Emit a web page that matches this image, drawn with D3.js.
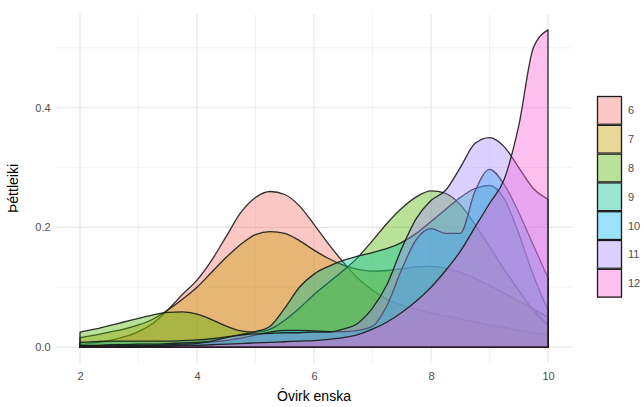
<!DOCTYPE html>
<html>
<head>
<meta charset="utf-8">
<script src="https://cdn.jsdelivr.net/npm/d3@7/dist/d3.min.js"></script>
<style>
  html, body { margin: 0; padding: 0; background: #fff; }
  svg { display: block; }
  text { font-family: "Liberation Sans", Arial, sans-serif; }
</style>
</head>
<body>
<svg id="chart" width="644" height="407"></svg>
<script>
// ---- data ----
const groups = ["6", "7", "8", "9", "10", "11", "12"];
const colors = ["#F8766D", "#C49A00", "#53B400", "#00C094", "#00B6EB", "#A58AFF", "#FB61D7"];
const xGrid = [2, 2.25, 2.5, 2.75, 3, 3.25, 3.5, 3.75, 4, 4.25, 4.5, 4.75, 5, 5.25, 5.5, 5.75,
               6, 6.25, 6.5, 6.75, 7, 7.25, 7.5, 7.75, 8, 8.25, 8.5, 8.75, 9, 9.25, 9.5, 9.75, 10];
const dens6  = [0.004, 0.007, 0.011, 0.017, 0.026, 0.040, 0.062, 0.088, 0.112, 0.145, 0.185, 0.225, 0.250, 0.260, 0.255, 0.236,
                0.205, 0.172, 0.142, 0.115, 0.095, 0.080, 0.070, 0.063, 0.057, 0.052, 0.047, 0.042, 0.037, 0.033, 0.028, 0.024, 0.020];
const dens7  = [0.016, 0.020, 0.025, 0.030, 0.037, 0.047, 0.062, 0.080, 0.100, 0.125, 0.150, 0.172, 0.188, 0.193, 0.190, 0.178,
                0.162, 0.148, 0.137, 0.130, 0.127, 0.128, 0.131, 0.134, 0.135, 0.132, 0.125, 0.115, 0.103, 0.090, 0.077, 0.064, 0.050];
const dens8  = [0.025, 0.030, 0.036, 0.042, 0.048, 0.054, 0.058, 0.059, 0.055, 0.046, 0.035, 0.027, 0.025, 0.030, 0.045, 0.065,
                0.088, 0.108, 0.128, 0.150, 0.178, 0.207, 0.232, 0.251, 0.261, 0.257, 0.238, 0.205, 0.168, 0.130, 0.095, 0.062, 0.037];
const dens9  = [0.008, 0.009, 0.010, 0.010, 0.010, 0.010, 0.010, 0.011, 0.012, 0.014, 0.017, 0.021, 0.026, 0.035, 0.065, 0.100,
                0.122, 0.135, 0.145, 0.152, 0.158, 0.165, 0.175, 0.190, 0.210, 0.230, 0.250, 0.265, 0.270, 0.248, 0.190, 0.120, 0.062];
const dens10 = [0.003, 0.003, 0.004, 0.004, 0.005, 0.005, 0.006, 0.007, 0.008, 0.009, 0.011, 0.015, 0.020, 0.025, 0.028, 0.028,
                0.027, 0.026, 0.026, 0.028, 0.035, 0.070, 0.130, 0.180, 0.198, 0.190, 0.190, 0.260, 0.297, 0.272, 0.225, 0.170, 0.116];
const dens11 = [0.002, 0.002, 0.002, 0.003, 0.003, 0.003, 0.004, 0.005, 0.006, 0.010, 0.016, 0.020, 0.022, 0.023, 0.024, 0.024,
                0.025, 0.025, 0.030, 0.040, 0.065, 0.105, 0.165, 0.215, 0.245, 0.262, 0.300, 0.340, 0.350, 0.335, 0.300, 0.265, 0.247];
const dens12 = [0.001, 0.001, 0.001, 0.001, 0.002, 0.002, 0.002, 0.003, 0.003, 0.004, 0.005, 0.006, 0.007, 0.008, 0.009, 0.010,
                0.011, 0.013, 0.016, 0.021, 0.030, 0.042, 0.058, 0.077, 0.100, 0.128, 0.160, 0.200, 0.240, 0.280, 0.370, 0.500, 0.530];
const densities = [dens6, dens7, dens8, dens9, dens10, dens11, dens12];
const xTicks = [2, 4, 6, 8, 10];
const xMinor = [3, 5, 7, 9];
const yTicks = [0.0, 0.2, 0.4];
const yMinor = [0.1, 0.3, 0.5];
const xTitle = "Óvirk enska";
const yTitle = "Þéttleiki";

// ---- layout ----
const svg = d3.select("#chart");
const panel = { left: 56.6, right: 571.4, top: 14, bottom: 363 };
const xMin = 2, xMax = 10, yMax = d3.max(densities.flat());
const xPad = (xMax - xMin) * 0.05, yPad = yMax * 0.05;

const x = d3.scaleLinear().domain([xMin - xPad, xMax + xPad]).range([panel.left, panel.right]);
const y = d3.scaleLinear().domain([-yPad, yMax + yPad]).range([panel.bottom, panel.top]);

// grid
const grid = svg.append("g");
grid.selectAll(".xminor").data(xMinor).join("line")
  .attr("x1", d => x(d)).attr("x2", d => x(d)).attr("y1", panel.top).attr("y2", panel.bottom)
  .attr("stroke", "#EBEBEB").attr("stroke-width", 0.6);
grid.selectAll(".yminor").data(yMinor).join("line")
  .attr("y1", d => y(d)).attr("y2", d => y(d)).attr("x1", panel.left).attr("x2", panel.right)
  .attr("stroke", "#EBEBEB").attr("stroke-width", 0.6);
grid.selectAll(".xmajor").data(xTicks).join("line")
  .attr("x1", d => x(d)).attr("x2", d => x(d)).attr("y1", panel.top).attr("y2", panel.bottom)
  .attr("stroke", "#E6E6E6").attr("stroke-width", 1.1);
grid.selectAll(".ymajor").data(yTicks).join("line")
  .attr("y1", d => y(d)).attr("y2", d => y(d)).attr("x1", panel.left).attr("x2", panel.right)
  .attr("stroke", "#E6E6E6").attr("stroke-width", 1.1);

// density areas
const area = d3.area()
  .x(d => x(d[0]))
  .y0(y(0))
  .y1(d => y(d[1]))
  .curve(d3.curveMonotoneX);

const layers = svg.append("g");
groups.forEach((g, i) => {
  const pts = xGrid.map((xv, j) => [xv, densities[i][j]]);
  layers.append("path")
    .attr("d", area(pts) + "Z")
    .attr("fill", colors[i])
    .attr("fill-opacity", 0.4)
    .attr("stroke", "#1a1a1a")
    .attr("stroke-opacity", 0.9)
    .attr("stroke-width", 1.3)
    .attr("stroke-linejoin", "round");
});

// axes (no lines, only labels)
const xAxis = svg.append("g").attr("transform", `translate(0,${panel.bottom})`)
  .call(d3.axisBottom(x).tickValues(xTicks).tickFormat(d3.format("d")).tickSize(0).tickPadding(9));
xAxis.select(".domain").remove();
xAxis.selectAll("text").attr("fill", "#4D4D4D").style("font-size", "11px")
  .style("font-family", "'Liberation Sans', Arial, sans-serif");

const yAxis = svg.append("g").attr("transform", `translate(${panel.left},0)`)
  .call(d3.axisLeft(y).tickValues(yTicks).tickFormat(d3.format(".1f")).tickSize(0).tickPadding(6));
yAxis.select(".domain").remove();
yAxis.selectAll("text").attr("fill", "#4D4D4D").style("font-size", "11px")
  .style("font-family", "'Liberation Sans', Arial, sans-serif");

// titles
svg.append("text").attr("x", (panel.left + panel.right) / 2).attr("y", 401)
  .attr("text-anchor", "middle").attr("fill", "#000").style("font-size", "14px").text(xTitle);
svg.append("text").attr("transform", `translate(18,${(panel.top + panel.bottom) / 2}) rotate(-90)`)
  .attr("text-anchor", "middle").attr("fill", "#000").style("font-size", "14px").text(yTitle);

// legend
const legend = svg.append("g").attr("transform", "translate(597,96)");
const keyW = 25, keyH = 28.8;
groups.forEach((g, i) => {
  legend.append("rect").attr("x", 0).attr("y", i * keyH).attr("width", keyW).attr("height", keyH)
    .attr("fill", "#fff");
  legend.append("rect").attr("x", 0.5).attr("y", i * keyH + 0.5).attr("width", keyW - 1).attr("height", keyH - 1)
    .attr("fill", colors[i]).attr("fill-opacity", 0.4)
    .attr("stroke", "#1a1a1a").attr("stroke-width", 1.3);
  legend.append("text").attr("x", keyW + 6).attr("y", i * keyH + keyH / 2 + 4)
    .attr("fill", "#4D4D4D").style("font-size", "11px").text(g);
});
</script>
</body>
</html>
